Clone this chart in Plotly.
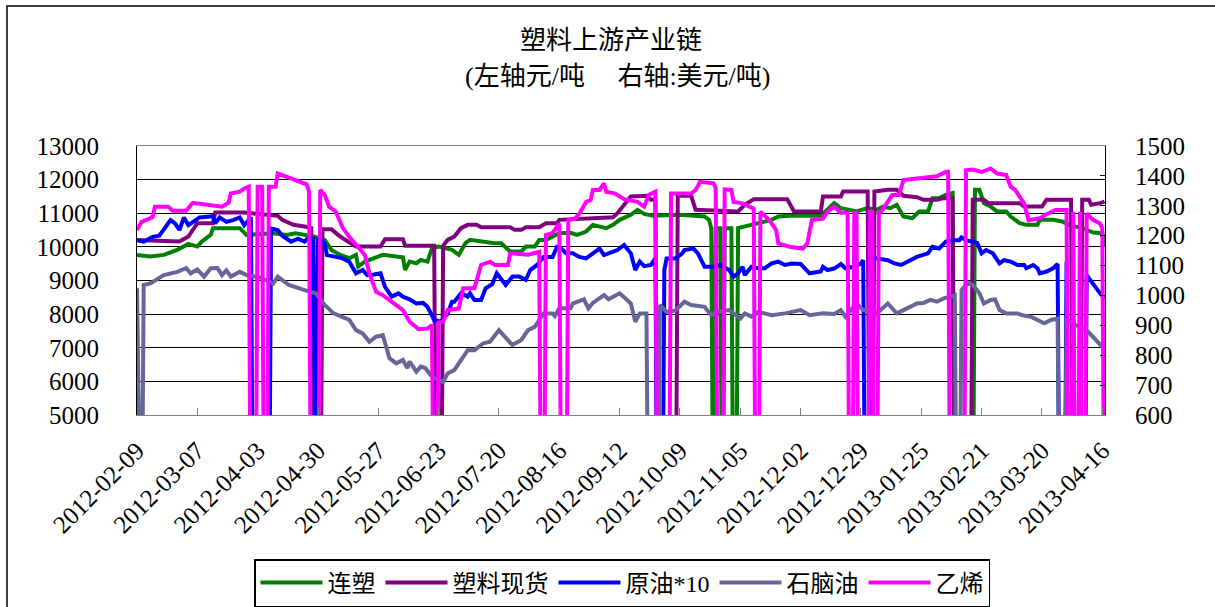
import pandas as pd
import plotly.graph_objects as go

START = "2012-02-09"
TICK_STEP_DAYS = 27

# 连塑 (left axis, 元/吨) -- day offsets from START and values
lian_su_days = [0, 6, 12, 18, 23, 27, 29, 33, 34, 42, 46, 49, 55, 61, 67, 71, 75, 79, 84, 87, 91, 95, 98, 99,
                102, 106, 110, 116, 119, 120, 122, 125, 127, 130, 132, 135, 139, 141, 144, 147, 149, 154,
                160, 163, 167, 172, 174, 178, 180, 183, 186, 189, 194, 197, 201, 204, 210, 213, 216, 219,
                221, 224, 227, 231, 243, 254, 256, 257, 258, 259, 261, 262, 263, 266, 267, 268, 269, 284,
                287, 292, 306, 312, 315, 319, 322, 327, 331, 334, 337, 340, 343, 347, 350, 354, 356, 359,
                362, 365, 366, 374, 375, 377, 379, 382, 385, 389, 391, 395, 398, 403, 404, 410, 414, 417,
                423, 428, 432, 433]
lian_su_vals = [9762, 9711, 9762, 9911, 10089, 10009, 10158, 10357, 10556, 10556, 10556, 10357, 10380, 10407,
                10357, 10407, 10357, 10307, 10208, 9911, 9762, 9663, 9762, 9415, 9563, 9663, 9762, 9712,
                9692, 9315, 9563, 9514, 9613, 9563, 9960, 10009, 9960, 9911, 9762, 10109, 10208, 10158,
                10109, 10109, 9861, 9861, 10009, 10009, 10208, 10208, 10307, 10407, 10420, 10357, 10456,
                10655, 10556, 10655, 10804, 10903, 10953, 11101, 10982, 10923, 10953, 10903, 10804, 10556,
                0, 10556, 10556, 0, 10556, 10556, 0, 0, 10556, 10804, 10903, 10923, 10923, 11300, 11151,
                11101, 11052, 11151, 11101, 11200, 11151, 11250, 10903, 10853, 11052, 11052, 11449, 11449,
                11548, 11598, 0, 0, 11697, 11697, 11300, 11200, 11052, 11052, 10903, 10705, 10655, 10655,
                10804, 10804, 10754, 10655, 10556, 10427, 10407, 10009]

# 塑料现货 (left axis, 元/吨)
spot_days = [0, 19, 23, 27, 34, 35, 48, 63, 65, 70, 75, 78, 79, 82, 83, 87, 90, 92, 98, 109, 111, 119, 120,
             133, 134, 136, 137, 139, 142, 145, 148, 152, 154, 167, 169, 172, 174, 180, 183, 188, 189, 213,
             215, 218, 221, 228, 230, 232, 233, 241, 242, 248, 250, 269, 272, 276, 291, 294, 306, 307, 315,
             316, 327, 328, 329, 330, 336, 340, 343, 349, 352, 358, 361, 365, 366, 373, 374, 379, 381, 395,
             397, 405, 407, 418, 419, 422, 423, 426, 427, 431, 433]
spot_vals = [10208, 10158, 10307, 10705, 10705, 11021, 11021, 10923, 10804, 10655, 10605, 10556, 0, 0, 10526,
             10526, 10357, 10258, 10009, 10009, 10228, 10228, 10030, 10030, 0, 0, 10030, 10208, 10307,
             10556, 10655, 10655, 10585, 10585, 10506, 10506, 10585, 10585, 10704, 10704, 10804, 10883,
             11002, 11250, 11498, 11518, 11399, 11399, 0, 0, 11518, 11518, 11101, 11052, 11250, 11419,
             11419, 11052, 11052, 11498, 11498, 11647, 11647, 0, 0, 11647, 11697, 11697, 11518, 11478,
             11399, 11399, 11449, 11449, 0, 0, 11399, 11399, 11300, 11300, 11200, 11200, 11399, 11399, 0,
             0, 11399, 11399, 11250, 11300, 11349]

# 原油*10 (right axis, 美元/吨)
crude_days = [0, 3, 7, 10, 15, 17, 19, 21, 23, 28, 34, 35, 37, 40, 43, 46, 48, 51, 52, 59, 60, 63, 65, 69, 72,
              75, 77, 79, 80, 81, 84, 85, 89, 92, 95, 98, 101, 103, 106, 109, 111, 114, 117, 119, 122, 125,
              128, 130, 133, 136, 139, 141, 142, 145, 148, 149, 151, 154, 156, 159, 161, 165, 168, 171, 174,
              176, 179, 182, 186, 188, 189, 192, 195, 198, 201, 204, 207, 209, 213, 215, 218, 221, 223, 225,
              227, 230, 232, 233, 235, 236, 237, 241, 244, 245, 249, 251, 254, 259, 261, 265, 267, 269, 271,
              272, 275, 278, 281, 284, 287, 290, 293, 297, 301, 306, 307, 309, 312, 315, 317, 321, 324, 325,
              326, 327, 328, 331, 336, 339, 342, 345, 349, 354, 356, 359, 362, 365, 368, 369, 371, 376, 378,
              380, 383, 386, 388, 391, 394, 397, 398, 401, 403, 404, 407, 410, 412, 413, 415, 416, 417, 424,
              425, 431, 433]
crude_vals = [1185, 1180, 1196, 1200, 1252, 1241, 1219, 1261, 1235, 1261, 1265, 1241, 1261, 1246, 1252, 1261,
              1235, 1261, 0, 0, 1224, 1219, 1200, 1180, 1190, 1180, 1196, 1190, 0, 1190, 1174, 1135, 1129,
              1124, 1113, 1074, 1085, 1068, 1070, 1074, 1029, 996, 1007, 996, 987, 973, 975, 962, 918, 912,
              940, 979, 979, 1007, 996, 1007, 985, 985, 1024, 1038, 1074, 1035, 1063, 1063, 1052, 1085, 1102,
              1129, 1129, 1163, 1163, 1141, 1141, 1129, 1124, 1141, 1157, 1135, 1146, 1152, 1169, 1141, 1085,
              1113, 1098, 1102, 1124, 0, 0, 1085, 1124, 1124, 1141, 1152, 1157, 1141, 1096, 1096, 1102, 1085,
              1063, 1074, 1096, 1068, 1096, 1091, 1091, 1107, 1113, 1102, 1107, 1105, 1074, 1080, 1096, 1085,
              1090, 1105, 1091, 1096, 1107, 1118, 0, 0, 1124, 1124, 1118, 1107, 1102, 1113, 1129, 1141, 1163,
              1157, 1180, 1185, 1185, 1194, 1185, 1176, 1141, 1152, 1141, 1107, 1118, 1113, 1102, 1102, 1091,
              1102, 1091, 1074, 1080, 1091, 1105, 0, 0, 1113, 0, 0, 1068, 1007, 990]

# 石脑油 (right axis, 美元/吨)
naphtha_days = [0, 1, 2, 3, 6, 12, 18, 22, 24, 27, 30, 33, 36, 38, 40, 42, 46, 49, 55, 61, 63, 68, 72, 75, 80,
                84, 88, 92, 95, 98, 101, 104, 107, 110, 113, 116, 119, 121, 122, 125, 127, 129, 132, 137, 139,
                142, 145, 148, 151, 155, 158, 162, 168, 172, 175, 178, 182, 186, 187, 189, 194, 195, 200, 202,
                204, 209, 211, 216, 219, 221, 223, 225, 228, 229, 233, 234, 237, 241, 245, 248, 254, 257, 260,
                265, 270, 272, 275, 278, 284, 290, 297, 301, 307, 312, 315, 317, 322, 325, 328, 331, 336, 340,
                343, 349, 352, 355, 358, 361, 364, 366, 367, 368, 369, 372, 374, 377, 379, 382, 384, 386, 389,
                394, 396, 400, 403, 406, 409, 412, 413, 415, 416, 420, 425, 428, 432, 433]
naphtha_vals = [1024, 0, 0, 1035, 1040, 1068, 1079, 1091, 1074, 1087, 1063, 1091, 1092, 1068, 1084, 1063, 1079,
                1068, 1060, 1040, 1063, 1035, 1024, 1018, 1007, 968, 940, 929, 918, 884, 873, 845, 862, 867,
                790, 773, 784, 757, 779, 745, 762, 757, 728, 711, 739, 750, 784, 817, 817, 840, 845, 884, 834,
                851, 884, 895, 940, 940, 931, 957, 957, 973, 987, 957, 975, 1001, 987, 1007, 987, 973, 912,
                940, 940, 0, 0, 968, 945, 950, 979, 968, 962, 934, 945, 951, 923, 940, 929, 945, 934, 940,
                951, 934, 940, 938, 951, 929, 973, 951, 957, 940, 973, 940, 951, 973, 975, 985, 979, 990, 996,
                1001, 0, 0, 1018, 1042, 1035, 1007, 973, 985, 987, 951, 940, 940, 934, 929, 918, 907, 918, 923,
                0, 0, 918, 901, 884, 862, 828, 806]

# 乙烯 (right axis, 美元/吨)
ethylene_days = [0, 2, 5, 7, 8, 14, 16, 22, 25, 33, 38, 41, 42, 46, 48, 50, 51, 53, 54, 56, 57, 58, 59, 62, 63,
                 71, 76, 77, 78, 81, 82, 84, 86, 89, 92, 95, 98, 102, 104, 107, 110, 113, 119, 122, 126, 130,
                 132, 133, 134, 135, 137, 139, 142, 144, 146, 151, 154, 158, 160, 166, 167, 175, 180, 181, 182,
                 183, 186, 189, 190, 192, 193, 196, 198, 201, 203, 204, 207, 209, 210, 214, 218, 224, 227, 229,
                 232, 233, 238, 239, 248, 250, 252, 258, 259, 260, 262, 263, 266, 267, 271, 274, 276, 277, 278,
                 279, 283, 286, 287, 292, 297, 298, 300, 302, 307, 309, 312, 315, 318, 319, 320, 321, 322, 323,
                 327, 328, 329, 330, 331, 332, 333, 336, 338, 341, 343, 349, 358, 362, 363, 364, 370, 371, 374,
                 378, 380, 382, 385, 389, 391, 393, 397, 399, 404, 407, 411, 416, 417, 418, 419, 420, 421, 422,
                 423, 424, 425, 428, 431, 432, 433]
ethylene_vals = [1219, 1246, 1255, 1263, 1297, 1297, 1283, 1283, 1310, 1302, 1297, 1310, 1341, 1347, 1358, 1364,
                 0, 0, 1364, 1364, 0, 0, 1364, 1364, 1408, 1386, 1371, 1347, 0, 0, 1353, 1336, 1297, 1280, 1227,
                 1196, 1169, 1135, 1074, 1012, 1001, 985, 951, 912, 887, 889, 901, 0, 0, 909, 912, 951, 956, 956,
                 1024, 1024, 1102, 1113, 1102, 1102, 1141, 1136, 1146, 0, 0, 1202, 1209, 1241, 0, 0, 1252, 1257,
                 1274, 1313, 1319, 1353, 1353, 1375, 1347, 1341, 1322, 1313, 1297, 1336, 1347, 0, 0, 1341, 1341,
                 1353, 1380, 1375, 1358, 0, 0, 1355, 1353, 1313, 1308, 1297, 1290, 0, 0, 1280, 1252, 1219, 1174,
                 1163, 1157, 1157, 1174, 1252, 1257, 1280, 1297, 1277, 1277, 0, 0, 1277, 1277, 0, 0, 1280, 1280,
                 0, 0, 1280, 1280, 1313, 1336, 1336, 1386, 1391, 1399, 1414, 1414, 0, 0, 1419, 1421, 1413, 1419,
                 1425, 1408, 1403, 1364, 1353, 1308, 1252, 1258, 1272, 1286, 1286, 0, 0, 1280, 0, 0, 1280, 0, 0,
                 1274, 1252, 1241, 1224, 0]

series = [
    ("连塑", lian_su_days, lian_su_vals, "#008000", "y"),
    ("塑料现货", spot_days, spot_vals, "#800080", "y"),
    ("原油*10", crude_days, crude_vals, "#0000FF", "y2"),
    ("石脑油", naphtha_days, naphtha_vals, "#666699", "y2"),
    ("乙烯", ethylene_days, ethylene_vals, "#FF00FF", "y2"),
]

start = pd.Timestamp(START)
fig = go.Figure()
for name, days, vals, color, yax in series:
    dates = start + pd.to_timedelta(days, unit="D")
    fig.add_trace(go.Scatter(x=dates, y=vals, name=name, mode="lines", yaxis=yax,
                             line=dict(color=color, width=4)))

FONT = "Liberation Serif, Noto Sans CJK SC, serif"
W, H = 1215, 607
L, R, T, B = 137, 110, 146, 192
pw, ph = W - L - R, H - T - B


def px_x(x):
    return (x - L) / pw


def px_y(y):
    return (H - B - y) / ph


fig.update_layout(
    width=W, height=H,
    margin=dict(l=L, r=R, t=T, b=B, autoexpand=False),
    paper_bgcolor="white", plot_bgcolor="white",
    font=dict(family=FONT, color="black", size=25),
    showlegend=True,
    legend=dict(orientation="h", x=px_x(622), xanchor="center", y=px_y(559), yanchor="top",
                font=dict(family=FONT, size=24, color="black"),
                bordercolor="black", borderwidth=1.5, bgcolor="white",
                itemwidth=62, tracegroupgap=0),
    xaxis=dict(type="date", range=[start, start + pd.Timedelta(days=433.2)],
               tick0=START, dtick=TICK_STEP_DAYS * 86400000, tickformat="%Y-%m-%d",
               tickangle=-45, ticks="inside", ticklen=7, tickcolor="#808080",
               showline=True, linecolor="#808080", linewidth=1, mirror=True,
               showgrid=False, zeroline=False, ticklabelstandoff=10,
               tickfont=dict(family=FONT, size=25, color="black")),
    yaxis=dict(range=[5000, 13000], dtick=1000, tickformat="d", showgrid=True, gridcolor="black",
               gridwidth=1, showline=True, linecolor="black", linewidth=1, ticks="", zeroline=False,
               ticklabelstandoff=32,
               tickfont=dict(family=FONT, size=25, color="black")),
    yaxis2=dict(range=[600, 1500], dtick=100, tickformat="d", overlaying="y", side="right",
                showgrid=False, showline=True, linecolor="black", linewidth=1, ticks="inside",
                ticklen=5, tickcolor="black", zeroline=False, ticklabelstandoff=24,
                tickfont=dict(family=FONT, size=25, color="black")),
    annotations=[
        dict(text="塑料上游产业链", xref="paper", yref="paper", x=px_x(611), y=px_y(40),
             xanchor="center", yanchor="middle", showarrow=False,
             font=dict(family=FONT, size=26, color="black")),
        dict(text="(左轴元/吨\u00a0\u00a0\u00a0\u00a0\u00a0右轴:美元/吨)", xref="paper", yref="paper",
             x=px_x(618), y=px_y(77), xanchor="center", yanchor="middle", showarrow=False,
             font=dict(family=FONT, size=26, color="black")),
    ],
    shapes=[dict(type="rect", xref="paper", yref="paper", x0=px_x(7), x1=px_x(1230),
                 y0=px_y(625), y1=px_y(6), line=dict(color="black", width=1.5))],
)

fig.write_html("out.html", config={"displayModeBar": False},
               post_script="document.body.style.margin='0';document.body.style.overflow='hidden';")
